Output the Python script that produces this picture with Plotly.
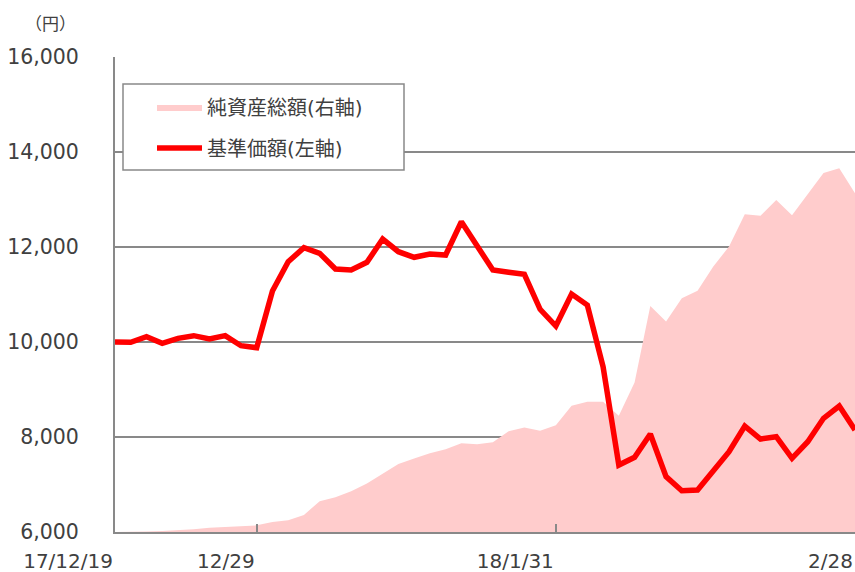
import plotly.graph_objects as go

# business-day index (0 = first point, 47 = 2/28)
day_index = list(range(48))
tick_positions = [0, 9, 28, 47]
tick_labels = ["17/12/19", "12/29", "18/1/31", "2/28"]

# 基準価額 (円, left axis)
nav = [10000, 9995, 10110, 9972, 10077, 10133, 10063, 10133, 9922, 9880,
       11073, 11690, 11985, 11867, 11536, 11515, 11677, 12168, 11901, 11783,
       11852, 11831, 12532, 12041, 11515, 11467, 11425, 10688, 10336, 11010,
       10778, 9480, 7410, 7572, 8063, 7165, 6870, 6884, 7270, 7690,
       8231, 7958, 8006, 7551, 7901, 8393, 8652, 8147]

# 純資産総額 (right axis, relative units)
net_assets = [0.0, 0.0, 0.1, 0.2, 0.35, 0.56, 0.9, 1.1, 1.26, 1.4,
              2.1, 2.5, 3.6, 6.5, 7.3, 8.6, 10.2, 12.3, 14.3, 15.5,
              16.6, 17.4, 18.7, 18.5, 18.9, 21.2, 22.0, 21.3, 22.5, 26.6,
              27.4, 27.4, 24.5, 31.5, 47.6, 44.3, 49.2, 50.8, 55.9, 60.1,
              66.9, 66.6, 69.9, 66.7, 71.2, 75.6, 76.6, 71.3]

GRAY = "#898989"
TXT = "#404040"
NUM_FONT = "DejaVu Sans, Verdana, sans-serif"
JP_FONT = "DejaVu Sans, Noto Sans CJK JP, sans-serif"

fig = go.Figure()
fig.add_trace(go.Scatter(
    x=day_index, y=net_assets, name="純資産総額(右軸)",
    mode="lines", fill="tozeroy", fillcolor="#FFCCCC",
    line=dict(width=0, color="#FFCCCC"), yaxis="y",
    legendgroup="a", hoverinfo="skip"))
fig.add_trace(go.Scatter(
    x=day_index, y=nav, name="基準価額(左軸)",
    mode="lines", line=dict(width=5.5, color="#FF0000"), yaxis="y2",
    legendgroup="b"))

fig.update_layout(
    width=855, height=572,
    margin=dict(l=115, r=0, t=57, b=40),
    paper_bgcolor="white", plot_bgcolor="white",
    showlegend=True,
    legend=dict(x=0.050, y=0.936, xanchor="left", yanchor="top",
                bgcolor="rgba(0,0,0,0)", borderwidth=0,
                font=dict(family=JP_FONT, size=20, color=TXT),
                tracegroupgap=12, traceorder="grouped", itemwidth=45),
    xaxis=dict(range=[0, 47], tickvals=tick_positions, ticktext=tick_labels,
               ticks="inside", ticklen=8, tickwidth=2, tickcolor=GRAY,
               ticklabelposition="outside left", ticklabelstandoff=10,
               showgrid=False, zeroline=False, showline=True,
               linecolor=GRAY, linewidth=2,
               tickfont=dict(family=NUM_FONT, size=20, color=TXT)),
    yaxis=dict(range=[0, 100], visible=False, showgrid=False),
    yaxis2=dict(range=[6000, 16000], dtick=2000, tickformat=",d",
                overlaying="y", side="left",
                showgrid=True, gridcolor=GRAY, gridwidth=1.5,
                zeroline=False, showline=True, linecolor=GRAY, linewidth=2,
                ticks="", ticklabelstandoff=30,
                tickfont=dict(family=NUM_FONT, size=20.5, color=TXT)),
    shapes=[dict(type="rect", xref="paper", yref="paper",
                 x0=(123 - 115) / 740, x1=(404 - 115) / 740,
                 y0=(532 - 170) / 475, y1=(532 - 84) / 475,
                 fillcolor="white", line=dict(color=GRAY, width=1.5),
                 layer="above")],
    annotations=[dict(text="（円）", xref="paper", yref="paper",
                      x=(50 - 115) / 740, y=(532 - 24) / 475,
                      xanchor="center", yanchor="middle", showarrow=False,
                      font=dict(family=JP_FONT, size=17, color=TXT))],
)

fig.write_html("out.html",
               config={"displayModeBar": False},
               post_script="document.body.style.margin='0px';"
                           "document.body.style.overflow='hidden';")
